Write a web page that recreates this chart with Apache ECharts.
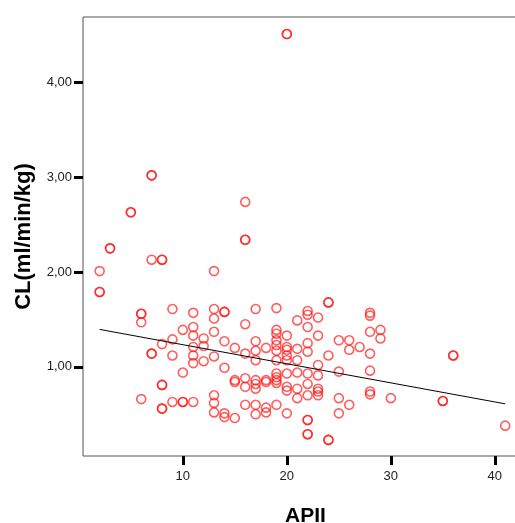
<!DOCTYPE html>
<html>
<head>
<meta charset="utf-8">
<script src="https://cdn.jsdelivr.net/npm/echarts@6/dist/echarts.min.js"></script>
<style>
  html, body { margin: 0; padding: 0; background: #fff; }
  #main { width: 515px; height: 523px; }
</style>
</head>
<body>
<div id="main"></div>
<script>
// APII score (x) and clearance CL (y), one entry per patient
var apii = [
  2, 2, 2,  3, 3,  5, 5,  6, 6, 6, 6,  7, 7, 7, 7, 7,
  8, 8, 8, 8, 8, 8, 8,  9, 9, 9, 9,  10, 10, 10, 10,
  11, 11, 11, 11, 11, 11, 11,  12, 12, 12,
  13, 13, 13, 13, 13, 13, 13, 13,  14, 14, 14, 14, 14, 14,
  15, 15, 15, 15,  16, 16, 16, 16, 16, 16, 16, 16,
  17, 17, 17, 17, 17, 17, 17, 17, 17,  18, 18, 18, 18, 18,
  19, 19, 19, 19, 19, 19, 19, 19, 19, 19, 19, 19,
  20, 20, 20, 20, 20, 20, 20, 20, 20, 20, 20,
  21, 21, 21, 21, 21, 21,
  22, 22, 22, 22, 22, 22, 22, 22, 22, 22, 22, 22,
  23, 23, 23, 23, 23, 23, 23,  24, 24, 24, 24, 24,
  25, 25, 25, 25,  26, 26, 26,  27,
  28, 28, 28, 28, 28, 28, 28,  29, 29,  30,  35, 35,  36, 36,  41
];
var cl = [
  2.01, 1.79, 1.79,  2.25, 2.25,  2.63, 2.63,  1.56, 1.56, 1.47, 0.66,  3.02, 3.02, 2.13, 1.14, 1.14,
  2.13, 2.13, 1.24, 0.81, 0.81, 0.56, 0.56,  1.61, 1.29, 1.12, 0.63,  1.39, 0.94, 0.63, 0.63,
  1.57, 1.42, 1.33, 1.21, 1.12, 1.04, 0.63,  1.30, 1.22, 1.06,
  2.01, 1.61, 1.51, 1.37, 1.11, 0.70, 0.62, 0.52,  1.58, 1.58, 1.27, 0.99, 0.51, 0.47,
  1.20, 0.86, 0.84, 0.46,  2.74, 2.34, 2.34, 1.45, 1.14, 0.88, 0.79, 0.60,
  1.61, 1.27, 1.17, 1.07, 0.86, 0.82, 0.77, 0.60, 0.50,  1.20, 0.86, 0.84, 0.57, 0.52,
  1.62, 1.39, 1.35, 1.28, 1.23, 1.17, 1.07, 0.93, 0.89, 0.86, 0.83, 0.60,
  4.51, 4.51, 1.33, 1.21, 1.18, 1.12, 1.07, 0.93, 0.79, 0.75, 0.51,
  1.49, 1.19, 1.07, 0.94, 0.77, 0.67,
  1.59, 1.55, 1.42, 1.25, 1.16, 0.93, 0.82, 0.70, 0.44, 0.44, 0.29, 0.29,
  1.52, 1.33, 1.02, 0.91, 0.77, 0.74, 0.70,  1.68, 1.68, 1.12, 0.23, 0.23,
  1.28, 0.95, 0.67, 0.51,  1.28, 1.18, 0.60,  1.21,
  1.57, 1.54, 1.37, 1.14, 0.96, 0.74, 0.71,  1.39, 1.30,  0.67,  0.64, 0.64,  1.12, 1.12,  0.38
];

// fitted line ends
var fitX = [2, 41];
var fitY = [1.395, 0.61];

var xTicks = [10, 20, 30, 40];
var yTicks = [1, 2, 3, 4];

var points = apii.map(function (x, i) { return [x, cl[i]]; });
var fitLine = fitX.map(function (x, i) { return [x, fitY[i]]; });

var font = 'Liberation Sans, Arial, sans-serif';
var myChart = echarts.init(document.getElementById('main'));
var option = {
    animation: false,
    backgroundColor: '#fff',
    grid: {
        // frame runs off the right edge like the original
        left: 83, top: 17, width: 445, height: 439,
        outerBoundsMode: 'none',
        containLabel: false,
        show: true, borderColor: '#555', borderWidth: 1, backgroundColor: '#fff'
    },
    xAxis: {
        type: 'value',
        min: 0.4, max: 43.19,
        name: 'APII',
        nameLocation: 'middle',
        nameGap: 50,
        nameTextStyle: { fontFamily: font, fontWeight: 'bold', fontSize: 21, color: '#000' },
        axisLine: { show: false, onZero: false },
        splitLine: { show: false },
        axisTick: { customValues: xTicks, length: 9, lineStyle: { color: '#000', width: 3 } },
        axisLabel: { customValues: xTicks, margin: 14, fontFamily: font, fontSize: 13, color: '#222' }
    },
    yAxis: {
        type: 'value',
        min: 0.06, max: 4.69,
        name: 'CL(ml/min/kg)',
        nameLocation: 'middle',
        nameGap: 48,
        nameTextStyle: { fontFamily: font, fontWeight: 'bold', fontSize: 22, color: '#000' },
        axisLine: { show: false, onZero: false },
        splitLine: { show: false },
        axisTick: { customValues: yTicks, length: 9, lineStyle: { color: '#000', width: 3 } },
        axisLabel: {
            customValues: yTicks, margin: 11, fontFamily: font, fontSize: 13, color: '#222',
            formatter: function (v) { return v.toFixed(2).replace('.', ','); }
        }
    },
    series: [
        {
            type: 'scatter',
            data: points,
            symbol: 'circle',
            symbolSize: 9,
            itemStyle: { color: 'rgba(0,0,0,0)', borderColor: 'rgba(255,20,20,0.85)', borderWidth: 1.6 }
        },
        {
            type: 'line',
            data: fitLine,
            symbol: 'none',
            lineStyle: { color: '#000', width: 1 },
            z: 3
        }
    ]
};
myChart.setOption(option);
</script>
</body>
</html>
